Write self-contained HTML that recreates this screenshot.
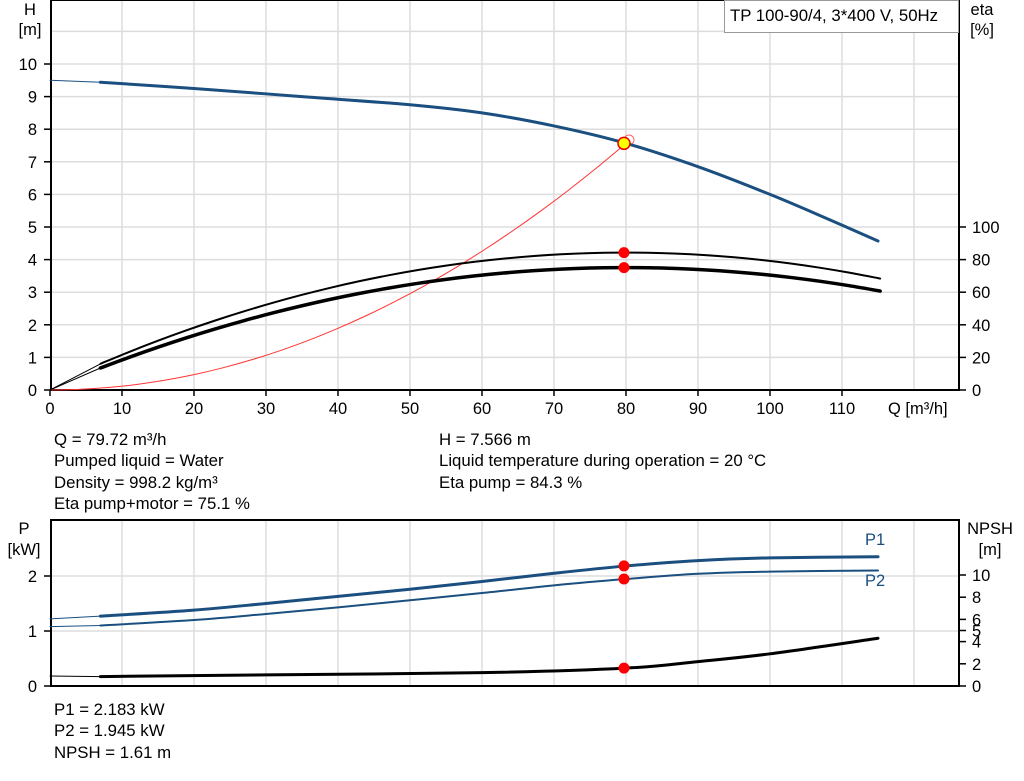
<!DOCTYPE html><html><head><style>
body{margin:0;background:#fff;width:1024px;height:781px;overflow:hidden;font-family:"Liberation Sans",Arial,sans-serif}
svg{position:absolute;left:0;top:0}
text{font-family:"Liberation Sans",Arial,sans-serif;font-size:16.5px;fill:#000}
.t{position:absolute;font-size:16.8px;line-height:21.3px;color:#000}
</style></head><body>
<svg id="s" width="1024" height="781" xmlns="http://www.w3.org/2000/svg"></svg>
<div class="t" style="left:54px;top:429px">Q = 79.72 m³/h<br>Pumped liquid = Water<br>Density = 998.2 kg/m³<br>Eta pump+motor = 75.1 %</div>
<div class="t" style="left:439px;top:429px">H = 7.566 m<br>Liquid temperature during operation = 20 °C<br>Eta pump = 84.3 %</div>
<div class="t" style="left:54px;top:699px">P1 = 2.183 kW<br>P2 = 1.945 kW<br>NPSH = 1.61 m</div>
<script>
const X=q=>50+7.2*q, YH=h=>390-32.6*h, YE=e=>390-1.63*e, YP=p=>686-55*p, YN=n=>686-11.1*n;
let s='';
const L=(x1,y1,x2,y2,c,w)=>s+=`<line x1="${x1}" y1="${y1}" x2="${x2}" y2="${y2}" stroke="${c}" stroke-width="${w}"/>`;
const T=(x,y,t,a,c,fs)=>s+=`<text x="${x}" y="${y}" text-anchor="${a||'start'}" style="${c?'fill:'+c+';':''}${fs?'font-size:'+fs+'px':''}">${t}</text>`;
for(let q=10;q<=120;q+=10){L(X(q),0,X(q),390,'#ddd',1.5);L(X(q),520,X(q),686,'#ddd',1.5);}
for(let h=1;h<=11;h++)L(50,YH(h),960,YH(h),'#ddd',1.5);
L(50,YP(1),960,YP(1),'#ddd',1.5);L(50,YP(2),960,YP(2),'#ddd',1.5);
s+=`<rect x="51" y="0" width="908" height="390" fill="none" stroke="#000" stroke-width="2"/>`;
s+=`<rect x="51" y="520" width="908" height="166" fill="none" stroke="#000" stroke-width="2"/>`;
s+=`<rect x="724.5" y="0.5" width="234" height="32" fill="#fff" stroke="#999"/>`;
T(730,21,'TP 100-90/4, 3*400 V, 50Hz','start','',16.8);
for(let h=0;h<=10;h++){L(44,YH(h),51,YH(h),'#000',1.5);T(37,YH(h)+6,h,'end');}
T(30,15,'H','middle');T(30,35,'[m]','middle');
T(982,15,'eta','middle');T(982,35,'[%]','middle');
for(let e=0;e<=100;e+=20){L(959,YE(e),966,YE(e),'#000',1.5);T(972,YE(e)+6,e);}
for(let q=0;q<=110;q+=10){L(X(q),390,X(q),396,'#000',1.5);T(X(q),414,q,'middle');}
T(888,414,'Q [m³/h]');
T(24,534,'P','middle');T(24,555,'[kW]','middle');
[0,1,2].forEach(p=>{L(44,YP(p),51,YP(p),'#000',1.5);T(37,YP(p)+6,p,'end');});
T(990,534,'NPSH','middle');T(990,555,'[m]','middle');
[0,2,4,5,6,8,10].forEach(n=>{L(959,YN(n),966,YN(n),'#000',1.5);T(972,YN(n)+6,n);});
function cr(pts){let d=`M${pts[0][0]},${pts[0][1]}`;for(let i=0;i<pts.length-1;i++){const p0=pts[i-1]||pts[i],p1=pts[i],p2=pts[i+1],p3=pts[i+2]||p2;d+=`C${p1[0]+(p2[0]-p0[0])/6},${p1[1]+(p2[1]-p0[1])/6} ${p2[0]-(p3[0]-p1[0])/6},${p2[1]-(p3[1]-p1[1])/6} ${p2[0]},${p2[1]}`;}return d;}
const P=(d,c,w)=>s+=`<path d="${d}" fill="none" stroke="${c}" stroke-width="${w}" stroke-linecap="round"/>`;
const mk=(arr,fx,fy)=>arr.map(a=>[fx(a[0]),fy(a[1])]);
let rs=[];for(let q=0;q<=80;q+=4)rs.push([q,7.566*(q/80)**2]);
P(cr(mk(rs,X,YH)),'#f33',1);
s+=`<circle cx="629" cy="140" r="5" fill="none" stroke="#f66" stroke-width="1"/>`;
P(`M${X(0)},${YH(9.5)}L${X(7)},${YH(9.44)}`,'#1a4f80',1);
P(cr(mk([[7,9.44],[20,9.25],[35,9.0],[50,8.75],[60,8.5],[70,8.1],[80,7.566],[90,6.85],[100,6.0],[108,5.25],[115,4.57]],X,YH)),'#1a4f80',3);
P(`M${X(0)},${YE(0)}L${X(7)},${YE(16)}`,'#000',1);P(`M${X(0)},${YE(0)}L${X(7)},${YE(13.5)}`,'#000',1);
let e1=[],e2=[];for(let q=7;q<=115.1;q+=4){const qq=Math.min(q,115);e1.push([qq,84.3-0.0128*(qq-80)**2]);e2.push([qq,75.1-0.01156*(qq-80)**2]);}
e1.push([115,84.3-0.0128*35*35]);e2.push([115,75.1-0.01156*35*35]);
P(cr(mk(e1,X,YE)),'#000',2);
P(cr(mk(e2,X,YE)),'#000',3.5);
P(`M${X(0)},${YP(1.22)}L${X(7)},${YP(1.27)}`,'#1a4f80',1);
P(cr(mk([[7,1.27],[20,1.38],[30,1.5],[40,1.63],[50,1.76],[60,1.9],[70,2.05],[80,2.183],[90,2.28],[100,2.33],[115,2.35]],X,YP)),'#1a4f80',3);
P(`M${X(0)},${YP(1.08)}L${X(7)},${YP(1.1)}`,'#1a4f80',1);
P(cr(mk([[7,1.1],[20,1.2],[30,1.31],[40,1.43],[50,1.56],[60,1.69],[70,1.83],[80,1.945],[90,2.04],[100,2.08],[115,2.1]],X,YP)),'#1a4f80',2);
P(`M${X(0)},${YN(0.9)}L${X(7)},${YN(0.85)}`,'#000',1);
P(cr(mk([[7,0.85],[30,1.0],[60,1.2],[80,1.61],[90,2.2],[100,2.9],[115,4.3]],X,YN)),'#000',3);
T(865,545,'P1','start','#1a4f80');T(865,586,'P2','start','#1a4f80');
[[X(79.72),YE(84.3)],[X(79.72),YE(75.1)],[X(79.72),YP(2.183)],[X(79.72),YP(1.945)],[X(79.72),YN(1.61)]].forEach(p=>s+=`<circle cx="${p[0]}" cy="${p[1]}" r="5.5" fill="#f00"/>`);
s+=`<circle cx="${X(79.72)}" cy="${YH(7.566)}" r="6" fill="#ff0" stroke="#e00" stroke-width="1.5"/>`;
document.getElementById('s').innerHTML=s;
</script>
</body></html>
